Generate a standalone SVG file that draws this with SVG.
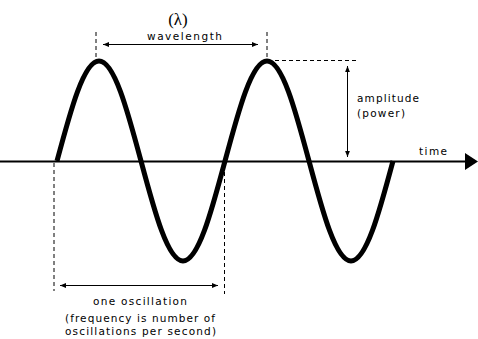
<svg xmlns="http://www.w3.org/2000/svg" width="478" height="339" viewBox="0 0 478 339">
<style>
.t{font-family:"DejaVu Sans","Liberation Sans",sans-serif;font-size:10.5px;fill:#000}
.d{stroke:#000;stroke-width:1;stroke-dasharray:4 3;fill:none}
.a{stroke:#000;stroke-width:1;fill:none}
</style>
<defs>
<marker id="ah" viewBox="0 0 10 10" refX="10" refY="5" markerWidth="6" markerHeight="6" markerUnits="userSpaceOnUse" orient="auto-start-reverse">
<path d="M0,1 L10,5 L0,9 Z" fill="#000"/>
</marker>
</defs>
<rect width="478" height="339" fill="#fff"/>
<g id="axis">
<line x1="0" y1="161.5" x2="466" y2="161.5" stroke="#000" stroke-width="2"/>
<polygon points="465,153 478,161.5 465,170" fill="#000"/>
<text class="t" x="419" y="155" textLength="28" lengthAdjust="spacing">time</text>
</g>
<g id="wave">
<path d="M57,161 C70.7,109.8 83.8,61 99,61 C114.2,61 127.3,109.8 141,161 C154.7,212.2 167.8,261 183,261 C198.2,261 211.3,212.2 225,161 C238.7,109.8 251.8,61 267,61 C282.2,61 295.3,109.8 309,161 C322.7,212.2 335.8,261 351,261 C366.2,261 379.3,212.2 393,161" fill="none" stroke="#000" stroke-width="5" stroke-linejoin="round"/>
</g>
<g id="connectors">
<line class="d" x1="96" y1="32" x2="96" y2="58"/>
<line class="d" x1="267" y1="32" x2="267" y2="58"/>
<line class="a" x1="103" y1="44.5" x2="258" y2="44.5" marker-start="url(#ah)" marker-end="url(#ah)"/>
<line class="d" x1="268" y1="60.5" x2="358" y2="60.5"/>
<line class="a" x1="347.5" y1="66" x2="347.5" y2="157" marker-start="url(#ah)" marker-end="url(#ah)"/>
<line class="d" x1="54" y1="163" x2="54" y2="291"/>
<line class="d" x1="224.5" y1="172" x2="224.5" y2="294"/>
<line class="a" x1="60" y1="285.5" x2="218" y2="285.5" marker-start="url(#ah)" marker-end="url(#ah)"/>
</g>
<g id="wavelength-label">
<text x="178" y="25" text-anchor="middle" font-family="Liberation Serif, serif" font-size="17">(λ)</text>
<text class="t" x="147" y="40" textLength="75" lengthAdjust="spacing">wavelength</text>
</g>
<g id="amplitude-label">
<text class="t" x="357" y="101.5" textLength="62" lengthAdjust="spacing">amplitude</text>
<text class="t" x="357" y="116.5" textLength="48" lengthAdjust="spacing">(power)</text>
</g>
<g id="oscillation-label">
<text class="t" x="93" y="305" textLength="94" lengthAdjust="spacing">one oscillation</text>
<text class="t" x="65" y="321.5" textLength="150" lengthAdjust="spacing">(frequency is number of</text>
<text class="t" x="65" y="335" textLength="151" lengthAdjust="spacing">oscillations per second)</text>
</g>
</svg>
